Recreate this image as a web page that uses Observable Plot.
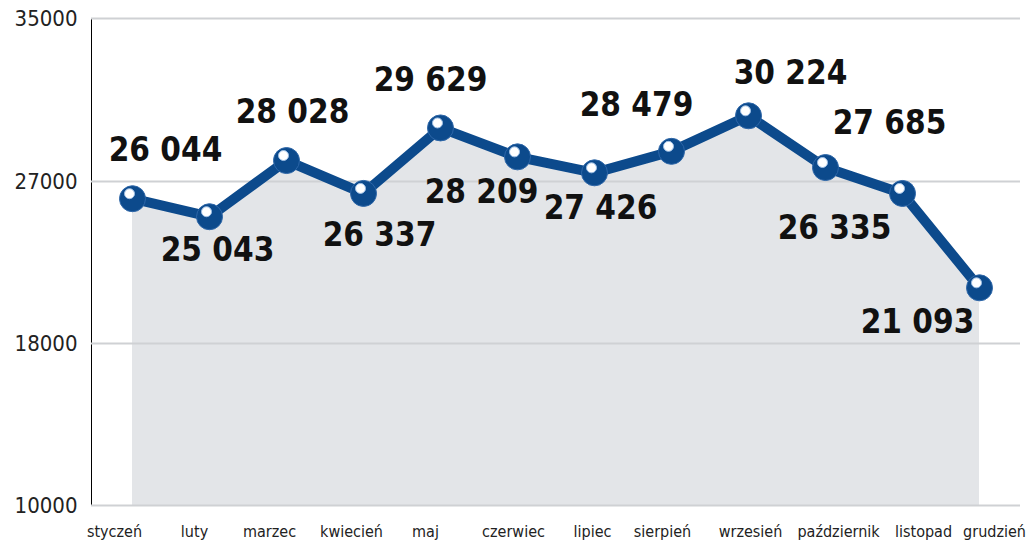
<!DOCTYPE html>
<html>
<head>
<meta charset="utf-8">
<script src="https://cdn.jsdelivr.net/npm/d3@7"></script>
<script src="https://cdn.jsdelivr.net/npm/@observablehq/plot@0.6"></script>
<style>
  html, body { margin: 0; padding: 0; background: #fff; }
  #chart svg { display: block; }
</style>
</head>
<body>
<div id="chart"></div>
<script>
// ---- data ----
const months = ["styczeń","luty","marzec","kwiecień","maj","czerwiec","lipiec","sierpień","wrzesień","październik","listopad","grudzień"];
const values = [26044, 25043, 28028, 26337, 29629, 28209, 27426, 28479, 30224, 27685, 26335, 21093];
const valueLabels = ["26 044","25 043","28 028","26 337","29 629","28 209","27 426","28 479","30 224","27 685","26 335","21 093"];
const yTicks = [10000, 18000, 27000, 35000];
const gridTicks = [10000, 18000, 27000, 35000];

// ---- layout (label offsets, px) ----
const labelDx = [33, 8, 6, 16, -10, -36, 6, -35, 42, 64, -68, -62];
const labelDy = [-48, 34, -48, 42, -47, 36, 36, -46, -42, -44, 35, 35];
const monthDx = [-18, -15, -17, -12, -15, -4, -2, -9, 2, 13, 21, 15];

const data = months.map((m, i) => ({month: m, value: values[i], label: valueLabels[i]}));

const W = 1034, H = 545;
const blue = "#0c4a8c";
const font = "'DejaVu Sans Condensed', 'DejaVu Sans', sans-serif";

const valueMarks = data.map((d, i) =>
  Plot.text([d], {x: "month", y: "value", text: "label", dx: labelDx[i], dy: labelDy[i],
    fontSize: 33, fontWeight: "bold", fill: "#111", fontFamily: font}));
const monthMarks = data.map((d, i) =>
  Plot.text([d], {x: "month", y: () => 10000, text: "month", dx: monthDx[i], dy: 26,
    fontSize: 16, fill: "#222", fontFamily: font}));

const chart = Plot.plot({
  width: W,
  height: H,
  marginLeft: 91,
  marginRight: 14,
  marginTop: 18,
  marginBottom: 40,
  style: {background: "#fff", fontFamily: font},
  x: {type: "point", domain: months, range: [130, 980], padding: 0, axis: null},
  y: {type: "linear", domain: [10000, 18000, 27000, 35000], range: [505, 343, 181, 18],
      ticks: yTicks, tickFormat: d => String(d), tickSize: 0, tickPadding: 14, line: true, label: null},
  marks: [
    Plot.areaY(data, {x: "month", y1: () => 10000, y2: "value", fill: "#e3e5e8", curve: "linear"}),
    Plot.ruleY(gridTicks, {stroke: "#cfd1d4", strokeWidth: 2}),
    Plot.line(data, {x: "month", y: "value", stroke: blue, strokeWidth: 10, strokeLinejoin: "round"}),
    Plot.dot(data, {x: "month", y: "value", r: 13, fill: blue, stroke: "#2d66a8", strokeWidth: 1}),
    Plot.dot(data, {x: "month", y: "value", r: 5, fill: "#fff", stroke: "#9fc0e6", strokeWidth: 1, dx: -3, dy: -5}),
    ...valueMarks,
    ...monthMarks
  ]
});

// style axis
const svg = d3.select(chart);
svg.selectAll("[aria-label='y-axis tick label']").attr("font-size", 22).attr("fill", "#222");
svg.selectAll("[aria-label='y-axis line'] line, [aria-label='y-axis line'] path, [aria-label='y-axis line']")
  .attr("stroke", "#444").attr("stroke-width", 2);
document.getElementById("chart").appendChild(chart);
</script>
</body>
</html>
